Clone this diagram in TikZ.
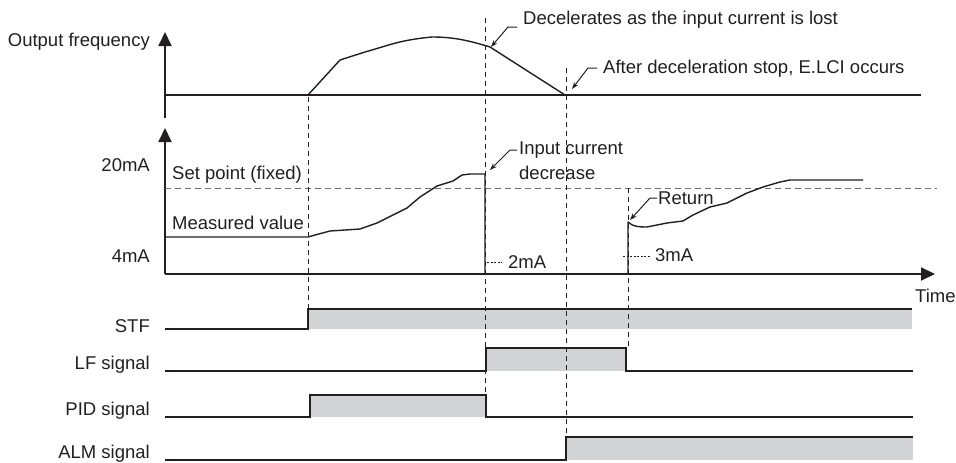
\documentclass[tikz,border=0pt]{standalone}
\usepackage{fontspec}
\setmainfont{Liberation Sans}
\usetikzlibrary{arrows.meta}
\definecolor{fillgray}{RGB}{210,211,213}
\definecolor{dashgray}{RGB}{110,110,110}
\definecolor{ink}{RGB}{35,31,32}
\begin{document}
\begin{tikzpicture}[x=1pt,y=-1pt,
  axis/.style={ink,line width=1.8pt,-{Triangle[length=14pt,width=13pt]}},
  baseln/.style={ink,line width=1.6pt},
  curve/.style={ink,line width=1.4pt,line join=round},
  sig/.style={ink,line width=1.6pt,line join=miter},
  vdash/.style={ink,line width=0.8pt,dash pattern=on 5pt off 4pt},
  spdash/.style={dashgray,line width=1pt,dash pattern=on 6pt off 4pt},
  dotln/.style={ink,line width=1pt,dash pattern=on 2pt off 1.5pt},
  leader/.style={ink,line width=1pt,-{Stealth[length=7pt,width=5pt]}},
  lbl/.style={font=\fontsize{18.5}{21}\selectfont,text=ink,inner sep=0pt},
  gfill/.style={fill=fillgray,draw=none}]
\useasboundingbox (0,0) rectangle (956,463);

% ---------- Output frequency panel ----------
\coordinate (fo) at (165,118);
\coordinate (ft) at (165,32);
\draw[axis] (fo) -- (ft);
\node[lbl,anchor=east] (lof) at (150,42) {Output frequency};
\coordinate (fb0) at (165,95);
\coordinate (fb1) at (921,95);
\draw[baseln] (fb0) -- (fb1);
\draw[curve] (308,95) -- (340,60) -- (365,52) .. controls (390,45) and (400,40) .. (432,37)
  .. controls (455,37) and (470,41) .. (490,47) -- (565,95);

% ---------- Current panel ----------
\coordinate (co) at (165,274);
\coordinate (ct) at (165,128);
\coordinate (cx) at (935,274);
\draw[axis] (co) -- (ct);
\draw[axis] (co) -- (cx);
\node[lbl,anchor=east] (l20) at (150,165) {20mA};
\node[lbl,anchor=east] (l4) at (150,256) {4mA};
\node[lbl,anchor=west] (ltime) at (915,296) {Time};
\coordinate (sp0) at (165,188);
\coordinate (sp1) at (937,188);
\draw[spdash] (sp0) -- (sp1);
\node[lbl,anchor=west] (lsp) at (172,175) {Set point (fixed)};
\node[lbl,anchor=west] (lmv) at (172,223) {Measured value};
\draw[curve] (165,237) -- (308,237) -- (315,235) -- (330,231) -- (360,229)
  -- (377,223) -- (397,213) -- (407,208) -- (420,197) -- (437,186) -- (453,181)
  -- (462,175) -- (470,174) -- (485,174) -- (485,274);
\draw[curve] (628,274) -- (628,222) .. controls (633,227) and (640,227) .. (647,227)
  -- (667,223) -- (683,221) -- (693,215) -- (710,207) -- (727,203) -- (747,193)
  -- (763,187) -- (780,182) -- (790,180) -- (863,180);

% ---------- Signals ----------
\fill[gfill] (308,309) rectangle (912,329);
\draw[sig] (165,329) -- (308,329) -- (308,309) -- (912,309);
\node[lbl,anchor=east] (lstf) at (150,326) {STF};

\fill[gfill] (486,348) rectangle (626,371);
\draw[sig] (165,371) -- (486,371) -- (486,348) -- (626,348) -- (626,371) -- (913,371);
\node[lbl,anchor=east] (llf) at (150,365) {LF signal};

\fill[gfill] (310,395) rectangle (486,417);
\draw[sig] (165,417) -- (310,417) -- (310,395) -- (486,395) -- (486,417) -- (913,417);
\node[lbl,anchor=east] (lpid) at (150,411) {PID signal};

\fill[gfill] (566,437) rectangle (913,460);
\draw[sig] (165,460) -- (566,460) -- (566,437) -- (913,437);
\node[lbl,anchor=east] (lalm) at (150,454) {ALM signal};

% ---------- Vertical dashed guides ----------
\draw[vdash] (308,97) -- (308,309);
\draw[vdash] (485,18) -- (485,392);
\draw[vdash] (566,68) -- (566,437);
\draw[vdash] (628,188) -- (628,346);

% ---------- Dotted level markers ----------
\draw[dotln] (487,262) -- (502,262);
\node[lbl,anchor=west] (l2) at (508,262) {2mA};
\draw[dotln] (623,256) -- (650,256);
\node[lbl,anchor=west] (l3) at (655,255) {3mA};

% ---------- Annotations ----------
\node[lbl,anchor=west] (adec) at (523,20) {Decelerates as the input current is lost};
\draw[leader] (517,27) -- (508,27) -- (491,47);
\node[lbl,anchor=west] (aafter) at (603,69) {After deceleration stop, E.LCI occurs};
\draw[leader] (597,68) -- (588,68) -- (572,89);
\node[lbl,anchor=west] (ainp) at (519,150) {Input current};
\node[lbl,anchor=west] (adecr) at (519,173) {decrease};
\draw[leader] (517,150) -- (510,150) -- (490,170);
\node[lbl,anchor=west] (aret) at (658,198) {Return};
\draw[leader] (657,198) -- (650,198) -- (630,220);
\end{tikzpicture}
\end{document}
